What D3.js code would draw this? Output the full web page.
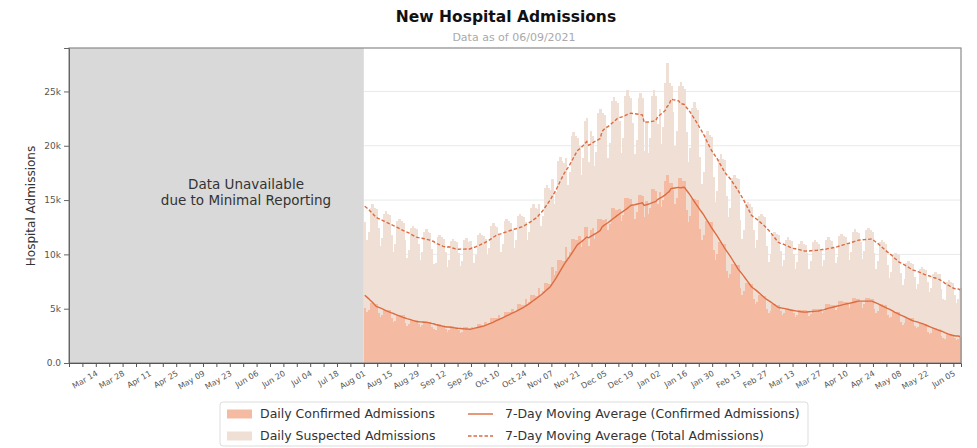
<!DOCTYPE html>
<html><head><meta charset="utf-8">
<script src="https://cdn.jsdelivr.net/npm/d3@7"></script>
<style>body{margin:0;background:#fff}svg{display:block;font-family:"DejaVu Sans",sans-serif}</style>
</head><body><svg id="c" width="977" height="448"></svg>
<script>
// ---- data (values in thousands of admissions), one entry per day ----
const firstDay = "2020-07-26";      // 6 July days only feed the 7-day average
const firstShownDay = "2020-08-01";
const xDomain = ["2020-02-29", "2021-06-09"];
const dailyTotal = [
  12.3,13.1,15.6,15.9,15.6,15.5,
  13.0,11.3,12.1,14.3,14.6,14.3,14.2,
  12.4,10.8,11.5,13.7,14.0,13.7,13.6,
  11.8,10.2,11.0,13.1,13.3,13.1,12.9,
  11.3,9.7,10.4,12.4,12.6,12.4,12.3,
  11.0,9.5,10.2,12.1,12.3,12.1,12.0,
  10.5,9.1,9.2,11.6,11.8,11.6,11.4,
  10.2,8.8,9.5,11.2,11.4,11.2,11.1,
  10.1,8.9,9.4,11.3,11.5,11.1,11.2,
  10.7,9.2,9.9,11.8,12.0,11.8,11.7,
  11.4,9.9,10.6,12.6,12.9,12.6,12.5,
  11.8,10.2,11.0,13.1,13.3,13.1,12.9,
  12.2,10.6,11.3,13.5,13.7,13.5,13.4,
  13.0,11.3,12.1,14.3,14.6,14.3,14.2,
  14.6,12.6,13.5,16.1,16.4,16.1,15.9,
  16.9,14.6,15.7,18.6,19.0,18.6,18.4,
  18.9,16.4,17.6,20.9,21.3,20.9,20.7,
  20.0,17.3,18.9,22.3,22.6,18.5,21.4,
  20.9,18.1,19.4,23.0,23.4,23.0,22.8,
  21.8,18.9,20.3,24.1,24.5,24.1,23.9,
  22.3,19.3,20.7,24.6,25.1,24.6,24.4,
  22.1,19.2,20.5,24.4,24.9,24.4,19.5,
  22.3,19.3,20.7,24.6,25.1,24.6,22.0,
  23.4,20.2,21.7,25.8,27.6,25.8,25.5,
  23.1,20.0,21.4,25.5,25.9,25.5,25.2,
  21.3,18.5,19.8,23.5,24.0,23.5,23.3,
  19.0,16.5,17.6,21.0,21.4,21.0,20.8,
  17.1,14.8,15.8,18.8,19.2,18.8,18.7,
  15.4,13.4,14.3,17.0,17.3,17.0,16.9,
  13.2,11.4,12.2,14.6,14.8,14.6,14.4,
  12.2,10.6,11.3,13.5,13.7,13.5,13.4,
  10.8,9.3,10.0,11.9,12.1,11.9,11.8,
  10.3,8.9,9.5,11.3,11.6,11.3,11.2,
  10.0,8.7,9.3,11.0,11.2,11.0,10.9,
  10.1,8.7,9.4,11.1,11.3,11.1,11.0,
  10.3,8.9,9.5,11.3,11.6,11.3,11.2,
  10.6,9.2,9.8,11.7,11.9,11.7,11.6,
  11.0,9.5,10.2,12.1,12.3,12.1,12.0,
  11.1,9.6,10.3,12.2,12.4,12.2,12.1,
  10.1,8.7,9.4,11.1,11.3,11.1,11.0,
  9.0,7.8,8.4,10.0,10.1,10.0,9.9,
  8.3,7.2,7.7,9.2,9.4,9.2,9.1,
  7.9,6.8,7.3,8.7,8.8,8.7,8.6,
  7.5,6.5,6.9,8.2,8.4,8.2,8.2,
  6.8,5.9,5.8,7.5,7.6,7.5,7.4,
  6.3,5.5,5.9,6.9
];
const dailyConfirmed = [
  5.8,6.0,6.7,6.7,6.7,6.7,
  5.1,4.7,4.9,5.5,5.5,5.4,5.4,
  4.6,4.2,4.4,4.9,4.9,4.9,4.9,
  4.1,3.8,3.9,4.4,4.4,4.4,4.4,
  3.7,3.4,3.6,4.0,4.0,4.0,4.0,
  3.6,3.3,3.5,3.9,3.9,3.8,3.8,
  3.3,3.1,3.0,3.6,3.6,3.5,3.5,
  3.1,2.9,3.0,3.4,3.4,3.3,3.3,
  3.0,2.8,2.9,3.3,3.3,3.2,3.2,
  3.3,3.1,3.2,3.6,3.6,3.5,3.5,
  3.8,3.5,3.7,4.1,4.1,4.1,4.1,
  4.4,4.1,4.2,4.7,4.7,4.7,4.7,
  5.0,4.6,4.8,5.4,5.4,5.3,5.3,
  5.9,5.4,5.6,6.3,6.3,6.2,6.2,
  6.9,6.3,6.6,7.4,7.4,7.3,7.3,
  8.8,8.1,8.5,9.5,9.5,9.4,9.4,
  10.7,9.8,10.2,11.4,11.4,11.3,11.3,
  11.7,10.7,11.2,12.5,12.5,10.8,12.2,
  12.4,11.4,11.9,13.3,13.3,13.2,13.2,
  13.3,12.2,12.8,14.3,14.3,14.1,14.1,
  14.2,13.1,13.6,15.2,15.2,15.1,15.1,
  14.5,13.3,13.9,15.5,15.5,15.4,13.4,
  14.9,13.7,14.3,16.0,16.0,15.8,14.6,
  15.7,14.4,15.0,16.8,17.3,16.6,16.6,
  15.9,14.6,15.2,17.0,17.0,16.8,16.8,
  14.1,13.0,13.5,15.1,15.1,15.0,15.0,
  12.3,11.3,11.8,13.1,13.1,13.0,13.0,
  10.4,9.5,10.0,11.1,11.1,11.0,11.0,
  8.5,7.8,8.2,9.1,9.1,9.0,9.0,
  6.9,6.3,6.6,7.4,7.4,7.3,7.3,
  5.9,5.4,5.6,6.3,6.3,6.2,6.2,
  5.0,4.6,4.8,5.4,5.4,5.3,5.3,
  4.8,4.4,4.6,5.1,5.1,5.0,5.0,
  4.6,4.2,4.4,4.9,4.9,4.9,4.9,
  4.7,4.3,4.5,5.0,5.0,5.0,5.0,
  5.0,4.6,4.8,5.4,5.4,5.3,5.3,
  5.3,4.9,5.1,5.7,5.7,5.6,5.6,
  5.6,5.1,5.4,6.0,6.0,5.9,5.9,
  5.6,5.1,5.4,6.0,6.0,5.9,5.9,
  5.0,4.6,4.8,5.4,5.4,5.3,5.3,
  4.4,4.1,4.2,4.7,4.7,4.7,4.7,
  3.8,3.5,3.7,4.1,4.1,4.1,4.1,
  3.4,3.2,3.3,3.7,3.7,3.6,3.6,
  2.9,2.7,2.8,3.2,3.2,3.1,3.1,
  2.5,2.3,2.2,2.7,2.7,2.7,2.7,
  2.3,2.1,2.2,2.4
];
const yTicks = [0, 5000, 10000, 15000, 20000, 25000];
const yTickLabels = ["0.0", "5k", "10k", "15k", "20k", "25k"];
const yMax = 29000;
const firstXTick = "2020-02-29";   // weekly ticks
const firstXLabel = "2020-03-14";  // labels every two weeks
const xTickLabels = ["Mar 14","Mar 28","Apr 11","Apr 25","May 09","May 23","Jun 06","Jun 20","Jul 04","Jul 18",
  "Aug 01","Aug 15","Aug 29","Sep 12","Sep 26","Oct 10","Oct 24","Nov 07","Nov 21","Dec 05","Dec 19",
  "Jan 02","Jan 16","Jan 30","Feb 13","Feb 27","Mar 13","Mar 27","Apr 10","Apr 24","May 08","May 22","Jun 05"];
const legendLabels = ["Daily Confirmed Admissions", "Daily Suspected Admissions",
  "7-Day Moving Average (Confirmed Admissions)", "7-Day Moving Average (Total Admissions)"];

// ---- colours ----
const cConf = "#f4bba2", cSusp = "#f0dfd5", cLine = "#dc6c42", cGray = "#d9d9d9";

const parse = d3.utcParse("%Y-%m-%d");
const svg = d3.select("#c");
const M = {l: 69, r: 961, t: 48, b: 363};
const X = d3.scaleUtc().domain(xDomain.map(parse)).range([M.l, M.r]);
const Y = d3.scaleLinear().domain([0, yMax]).range([M.b, M.t]);

const d0 = parse(firstDay), shown0 = parse(firstShownDay);
const rows = dailyTotal.map((t, i) => {
  const date = d3.utcDay.offset(d0, i);
  const lo = Math.max(0, i - 6);
  const maT = d3.mean(dailyTotal.slice(lo, i + 1));
  const maC = d3.mean(dailyConfirmed.slice(lo, i + 1));
  return {date, total: t * 1000, conf: dailyConfirmed[i] * 1000, maT: maT * 1000, maC: maC * 1000};
}).filter(d => d.date >= shown0);

// gridlines
svg.append("g").selectAll("line").data(yTicks.slice(1)).join("line")
  .attr("x1", M.l).attr("x2", M.r).attr("y1", d => Y(d)).attr("y2", d => Y(d))
  .attr("stroke", "#e9e9e9").attr("stroke-width", 1);

// unavailable region
svg.append("rect").attr("x", X(parse(xDomain[0]))).attr("y", M.t)
  .attr("width", X(shown0) - X(parse(xDomain[0]))).attr("height", M.b - M.t).attr("fill", cGray);
svg.append("text").attr("x", 246).attr("y", 189).attr("text-anchor", "middle")
  .attr("font-size", 13.5).attr("fill", "#333").text("Data Unavailable");
svg.append("text").attr("x", 246).attr("y", 205).attr("text-anchor", "middle")
  .attr("font-size", 13.5).attr("fill", "#333").text("due to Minimal Reporting");

// bars
const bw = d => X(d3.utcDay.offset(d.date, 1)) - X(d.date) + 0.6;
svg.append("g").attr("shape-rendering", "crispEdges").selectAll("rect").data(rows).join("rect")
  .attr("x", d => X(d.date)).attr("width", bw)
  .attr("y", d => Y(d.total)).attr("height", d => Y(d.conf) - Y(d.total)).attr("fill", cSusp);
svg.append("g").attr("shape-rendering", "crispEdges").selectAll("rect").data(rows).join("rect")
  .attr("x", d => X(d.date)).attr("width", bw)
  .attr("y", d => Y(d.conf)).attr("height", d => Y(0) - Y(d.conf)).attr("fill", cConf);

// moving averages
const half = d => X(d.date) + (X(d3.utcDay.offset(d.date, 1)) - X(d.date)) / 2;
svg.append("path").datum(rows).attr("fill", "none").attr("stroke", cLine).attr("stroke-width", 1.4)
  .attr("d", d3.line().x(half).y(d => Y(d.maC)));
svg.append("path").datum(rows).attr("fill", "none").attr("stroke", cLine).attr("stroke-width", 1.4)
  .attr("stroke-dasharray", "3.5,2").attr("d", d3.line().x(half).y(d => Y(d.maT)));

// frame
svg.append("rect").attr("x", M.l).attr("y", M.t).attr("width", M.r - M.l).attr("height", M.b - M.t)
  .attr("fill", "none").attr("stroke", "#8a8a8a").attr("stroke-width", 1.2);

// y axis
const yAx = svg.append("g").attr("transform", `translate(${M.l},0)`)
  .call(d3.axisLeft(Y).tickValues(yTicks).tickFormat((d, i) => yTickLabels[i]).tickSize(5).tickPadding(3));
yAx.select(".domain").attr("stroke", "#666");
yAx.selectAll(".tick line").attr("stroke", "#666");
yAx.selectAll("text").attr("font-size", 9).attr("fill", "#555").attr("font-family", "DejaVu Sans");

// x axis
const lab0 = parse(firstXLabel);
const labelOf = d => {
  const k = Math.round((d - lab0) / 864e5);
  return (k >= 0 && k % 14 === 0) ? (xTickLabels[k / 14] || "") : "";
};
const tickDates = d3.range(0, 67).map(i => d3.utcDay.offset(parse(firstXTick), 7 * i)).filter(d => d <= parse(xDomain[1]));
const xAx = svg.append("g").attr("transform", `translate(0,${M.b})`)
  .call(d3.axisBottom(X).tickValues(tickDates).tickFormat(labelOf).tickSize(4));
xAx.select(".domain").attr("stroke", "#555");
xAx.selectAll(".tick line").attr("stroke", "#555");
xAx.selectAll("text").attr("font-size", 8).attr("fill", "#555").attr("font-family", "DejaVu Sans")
  .attr("text-anchor", "end").attr("y", 0).attr("dy", 0)
  .attr("transform", "translate(2,12) rotate(-30)");

// y label
svg.append("text").attr("transform", "translate(35,206) rotate(-90)").attr("text-anchor", "middle")
  .attr("font-size", 12).attr("fill", "#333").text("Hospital Admissions");

// titles
svg.append("text").attr("x", 506).attr("y", 22).attr("text-anchor", "middle")
  .attr("font-size", 15.5).attr("font-weight", "bold").attr("fill", "#111").text("New Hospital Admissions");
svg.append("text").attr("x", 514).attr("y", 41).attr("text-anchor", "middle")
  .attr("font-size", 11).attr("fill", "#aaa").text("Data as of 06/09/2021");

// legend
const lg = svg.append("g");
lg.append("rect").attr("x", 220).attr("y", 402).attr("width", 588).attr("height", 44).attr("rx", 3)
  .attr("fill", "#fff").attr("stroke", "#ddd");
const rowsY = [414, 436];
[cConf, cSusp].forEach((c, i) => {
  lg.append("rect").attr("x", 227).attr("y", rowsY[i] - 4.5).attr("width", 25).attr("height", 9).attr("fill", c);
  lg.append("text").attr("x", 260).attr("y", rowsY[i]).attr("dy", "0.35em").attr("font-size", 12.5)
    .attr("fill", "#333").text(legendLabels[i]);
});
[null, "3.5,2"].forEach((dash, i) => {
  lg.append("line").attr("x1", 468).attr("x2", 493).attr("y1", rowsY[i]).attr("y2", rowsY[i])
    .attr("stroke", cLine).attr("stroke-width", 1.4).attr("stroke-dasharray", dash);
  lg.append("text").attr("x", 505).attr("y", rowsY[i]).attr("dy", "0.35em").attr("font-size", 12.5)
    .attr("fill", "#333").text(legendLabels[i + 2]);
});
</script></body></html>
